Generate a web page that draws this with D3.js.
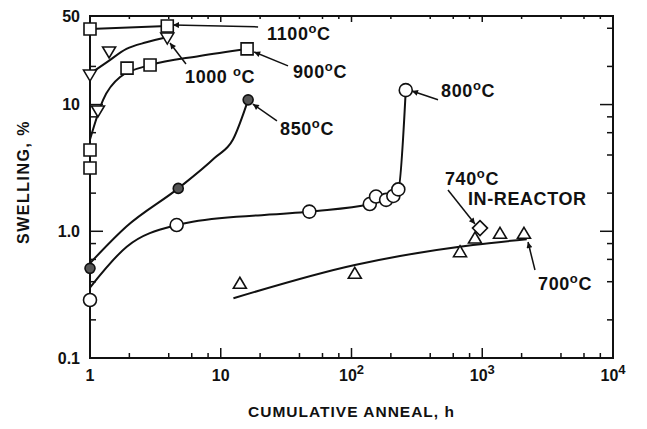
<!DOCTYPE html>
<html>
<head>
<meta charset="utf-8">
<script src="https://cdn.jsdelivr.net/npm/d3@7"></script>
<style>
  body { margin: 0; background: #fff; }
  svg { font-family: "Liberation Sans", Arial, sans-serif; font-weight: bold; }
</style>
</head>
<body>
<svg width="647" height="429"></svg>
<script>
// swelling vs cumulative anneal

// 1100 C (squares)
const h1100 = [1, 3.9];
const sw1100 = [39.5, 41.7];
// 1000 C (inverted triangles)
const h1000 = [1, 1.15, 1.4, 3.9];
const sw1000 = [17.1, 8.9, 26.0, 33.5];
const c1000h = [1, 1.34, 1.9, 2.7, 3.85];
const c1000s = [17.5, 21.5, 27.5, 31, 34];
// 900 C (squares)
const h900 = [1, 1, 1.92, 2.88, 15.9];
const sw900 = [4.38, 3.16, 19.4, 20.5, 27.5];
const c900h = [1, 1.26, 1.7, 2.88, 6.9, 15.9];
const c900s = [5.3, 10.9, 16.5, 20.5, 24.2, 27.5];
// 850 C (filled circles)
const h850 = [1, 4.73, 16.2];
const sw850 = [0.51, 2.18, 10.9];
const c850h = [1, 1.9, 4.73, 9, 12.4, 16.2];
const c850s = [0.56, 1.09, 2.18, 3.8, 5.3, 10.9];
// 800 C (open circles)
const h800 = [1, 4.6, 47.6, 138, 154, 184, 209, 228, 260];
const sw800 = [0.287, 1.12, 1.43, 1.64, 1.88, 1.77, 1.90, 2.14, 13.0];
const c800h = [1, 1.91, 4.6, 6.1, 47.6, 138, 228, 260];
const c800s = [0.36, 0.756, 1.12, 1.19, 1.43, 1.64, 2.14, 13.0];
// 740 C in-reactor (diamond)
const h740 = [961];
const sw740 = [1.06];
// 700 C (triangles)
const h700 = [14.0, 106, 676, 880, 1367, 2085];
const sw700 = [0.389, 0.466, 0.690, 0.885, 0.964, 0.964];
const c700h = [12.5, 106, 235, 849, 2190];
const c700s = [0.296, 0.542, 0.638, 0.780, 0.865];

const xMajor = [1, 10, 100, 1000, 10000];
const xLabels = [["1"], ["10"], ["10", "2"], ["10", "3"], ["10", "4"]];
const yMajor = [0.1, 1, 10, 50];
const yLabels = ["0.1", "1.0", "10", "50"];

// labels: text, anchor (h, %), leader from -> to
const notes = [
  { t: "1100", deg: "o", c: "C", at: [22.6, 32.4], from: [19.3, 41.0], to: [4.31, 42.5] },
  { t: "1000 ", deg: "o", c: "C", at: [5.33, 14.8], from: [5.42, 20.9], to: [4.09, 30.6] },
  { t: "900", deg: "o", c: "C", at: [35.7, 16.2], from: [32.7, 20.2], to: [18.0, 26.0] },
  { t: "850", deg: "o", c: "C", at: [28.4, 5.75], from: [26.9, 7.43], to: [17.6, 10.1] },
  { t: "800", deg: "o", c: "C", at: [484, 11.5], from: [459, 10.9], to: [290, 12.8] },
  { t: "740", deg: "o", c: "C", at: [519, 2.32], from: [547, 2.12], to: [880, 1.14] },
  { t: "IN-REACTOR", at: [778, 1.61] },
  { t: "700", deg: "o", c: "C", at: [2670, 0.344], from: [2530, 0.495], to: [2239, 0.823] }
];

const svg = d3.select("svg");
const x = d3.scaleLog().domain([1, 1e4]).range([90, 613]);
const y = d3.scaleLog().domain([0.1, 50]).range([358, 16]);

svg.append("defs").append("marker")
    .attr("id", "arr")
    .attr("viewBox", "0 0 10 10")
    .attr("refX", 10).attr("refY", 5)
    .attr("markerWidth", 8).attr("markerHeight", 6)
    .attr("markerUnits", "userSpaceOnUse")
    .attr("orient", "auto")
  .append("path")
    .attr("d", "M0,0L10,5L0,10z")
    .attr("fill", "#111");

// frame
svg.append("rect")
    .attr("x", x(1)).attr("y", y(50))
    .attr("width", x(1e4) - x(1)).attr("height", y(0.1) - y(50))
    .attr("fill", "none").attr("stroke", "#111").attr("stroke-width", 2);

// ticks
const xt = [];
[1, 10, 100, 1000].forEach(d => [2, 4, 6, 8].forEach(m => xt.push([d * m, 5])));
[10, 100, 1000].forEach(d => xt.push([d, 10]));
const yt = [];
[0.1, 1, 10].forEach(d => [2, 4, 6, 8].forEach(m => { if (d * m <= 50) yt.push([d * m, 6]); }));
yt.push([1, 13], [10, 13]);

const ticks = svg.append("g").attr("stroke", "#111").attr("stroke-width", 1.5);
xt.forEach(([v, l]) => {
  ticks.append("line").attr("x1", x(v)).attr("x2", x(v)).attr("y1", y(0.1)).attr("y2", y(0.1) - l);
  ticks.append("line").attr("x1", x(v)).attr("x2", x(v)).attr("y1", y(50)).attr("y2", y(50) + l * 0.6);
});
yt.forEach(([v, l]) => {
  ticks.append("line").attr("y1", y(v)).attr("y2", y(v)).attr("x1", x(1)).attr("x2", x(1) + l);
  ticks.append("line").attr("y1", y(v)).attr("y2", y(v)).attr("x1", x(1e4)).attr("x2", x(1e4) - l);
});

// tick labels
xMajor.forEach((v, i) => {
  const t = svg.append("text")
      .attr("x", x(v)).attr("y", 381)
      .attr("text-anchor", "middle")
      .attr("font-size", 16).attr("fill", "#111");
  t.append("tspan").text(xLabels[i][0]);
  if (xLabels[i][1]) t.append("tspan").attr("dy", -7).attr("font-size", 13).text(xLabels[i][1]);
});
yMajor.forEach((v, i) => {
  svg.append("text")
      .attr("x", 80).attr("y", y(v)).attr("dy", "0.35em")
      .attr("text-anchor", "end")
      .attr("font-size", 16).attr("fill", "#111")
      .text(yLabels[i]);
});

svg.append("text")
    .attr("x", (x(1) + x(1e4)) / 2).attr("y", 417)
    .attr("text-anchor", "middle")
    .attr("font-size", 15.5).attr("letter-spacing", 1).attr("fill", "#111")
    .text("CUMULATIVE ANNEAL, h");
svg.append("text")
    .attr("transform", "translate(29,182) rotate(-90)")
    .attr("text-anchor", "middle")
    .attr("font-size", 16).attr("letter-spacing", 1.5).attr("fill", "#111")
    .text("SWELLING, %");

// curves
const line = d3.line().x(d => x(d[0])).y(d => y(d[1])).curve(d3.curveMonotoneX);
const curves = [
  [h1100, sw1100], [c1000h, c1000s], [c900h, c900s],
  [c850h, c850s], [c800h, c800s], [c700h, c700s]
];
svg.append("g").selectAll("path")
  .data(curves)
  .join("path")
    .attr("d", d => line(d3.zip(d[0], d[1])))
    .attr("fill", "none").attr("stroke", "#111").attr("stroke-width", 2);

// leaders
svg.append("g").selectAll("line")
  .data(notes.filter(n => n.from))
  .join("line")
    .attr("x1", d => x(d.from[0])).attr("y1", d => y(d.from[1]))
    .attr("x2", d => x(d.to[0])).attr("y2", d => y(d.to[1]))
    .attr("stroke", "#111").attr("stroke-width", 1.5)
    .attr("marker-end", "url(#arr)");

// markers
const shapes = {
  square: "M-6,-6H6V6H-6Z",
  tdown: "M-6.5,-5H6.5L0,6Z",
  tup: "M0,-6L6.5,5H-6.5Z",
  diamond: "M0,-7.5L7.5,0L0,7.5L-7.5,0Z"
};
function pts(hs, ss, shape, fill) {
  const g = svg.append("g");
  const data = d3.zip(hs, ss);
  if (shape === "circle") {
    g.selectAll("circle").data(data).join("circle")
        .attr("cx", d => x(d[0])).attr("cy", d => y(d[1]))
        .attr("r", fill === "#fff" ? 6.5 : 5)
        .attr("fill", fill).attr("stroke", "#111").attr("stroke-width", 1.6);
  } else {
    g.selectAll("path").data(data).join("path")
        .attr("transform", d => `translate(${x(d[0])},${y(d[1])})`)
        .attr("d", shapes[shape])
        .attr("fill", fill).attr("stroke", "#111").attr("stroke-width", 1.6);
  }
}
pts(h1100, sw1100, "square", "#fff");
pts(h1000, sw1000, "tdown", "#fff");
pts(h900, sw900, "square", "#fff");
pts(h850, sw850, "circle", "#555");
pts(h800, sw800, "circle", "#fff");
pts(h740, sw740, "diamond", "#fff");
pts(h700, sw700, "tup", "#fff");

// annotation text
notes.forEach(n => {
  const t = svg.append("text")
      .attr("x", x(n.at[0])).attr("y", y(n.at[1]))
      .attr("font-size", 18).attr("letter-spacing", 0.6).attr("fill", "#111");
  t.append("tspan").text(n.t);
  if (n.deg) {
    t.append("tspan").attr("dy", -7).attr("font-size", 13).text(n.deg);
    t.append("tspan").attr("dy", 7).text(n.c);
  }
});
</script>
</body>
</html>
